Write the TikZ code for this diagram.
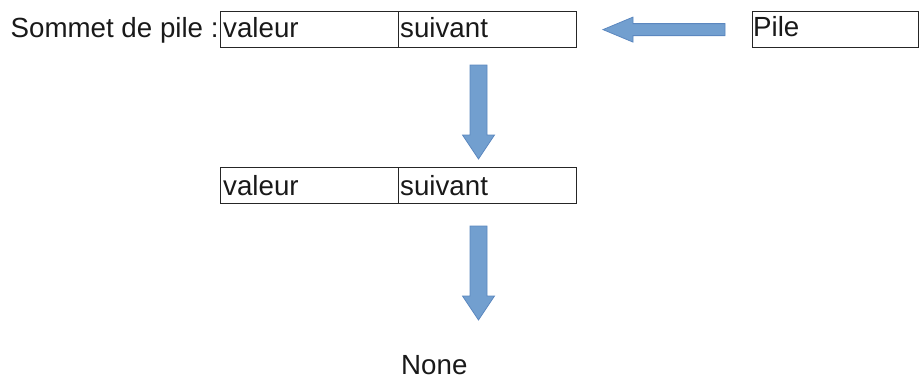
\documentclass[tikz,border=0pt]{standalone}
\usepackage{fontspec}
\setmainfont{Liberation Sans}
\usetikzlibrary{calc}
\definecolor{arrowfill}{HTML}{729FCF}
\definecolor{arrowline}{HTML}{5B87BF}
\begin{document}
\begin{tikzpicture}[x=1pt,y=-1pt,
  cell/.style={draw=black!85, line width=1.2pt, minimum width=178pt,
    minimum height=36pt, inner sep=0pt, anchor=north west},
  txt/.style={font=\fontsize{27.7}{33}\selectfont, text=black!90,
    inner sep=0pt, anchor=base west},
  blockarrow/.style={fill=arrowfill, draw=arrowline, line width=0.8pt,
    line join=miter}]
\useasboundingbox (0,0) rectangle (919,378);

% stack top element
\node[cell] (v1) at (220,11) {};
\node[cell] (s1) at (398,11) {};
% stack handle
\node[cell, minimum width=166pt] (pile) at (752,11) {};
% next element
\node[cell] (v2) at (220,167) {};
\node[cell] (s2) at (398,167) {};

% labels
\node[txt] (top) at (10.5,37) {Sommet de pile :};
\node[txt] (tv1) at ($(v1.north west)+(3,26)$) {valeur};
\node[txt] (ts1) at ($(s1.north west)+(2,26)$) {suivant};
\node[txt] (tp)  at ($(pile.north west)+(1,25)$) {Pile};
\node[txt] (tv2) at ($(v2.north west)+(3,28)$) {valeur};
\node[txt] (ts2) at ($(s2.north west)+(2,28)$) {suivant};
\node[txt] (none) at (401,374) {None};

% tails of the block arrows
\coordinate (a0) at ($(pile.west)+(-27,0)$);
\coordinate (a1) at (478.5,65);
\coordinate (a2) at (478.5,226);

% handle -> top element (points left)
\begin{scope}[shift={(a0)}]
  \draw[blockarrow] (0,-6) -- (-92,-6) -- (-92,-12.5) -- (-122,0)
    -- (-92,12.5) -- (-92,6) -- (0,6) -- cycle;
\end{scope}
% top element -> next element, next element -> None (point down)
\foreach \t in {a1,a2}{
  \begin{scope}[shift={(\t)}]
    \draw[blockarrow] (-8.5,0) -- (8.5,0) -- (8.5,70) -- (16,70) -- (0,94)
      -- (-16,70) -- (-8.5,70) -- cycle;
  \end{scope}
}
\end{tikzpicture}
\end{document}
